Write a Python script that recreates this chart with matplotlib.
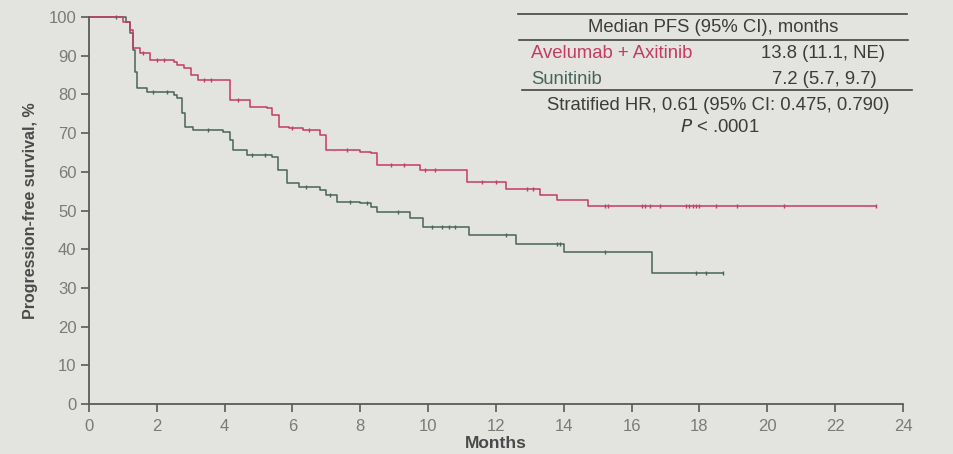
import numpy as np
import matplotlib
matplotlib.use("Agg")
import matplotlib.pyplot as plt
from matplotlib.lines import Line2D

plt.rcParams['font.family'] = ['Liberation Sans', 'DejaVu Sans']

# Kaplan-Meier step data (months, % progression-free)
ave_t = [0, 1.0, 1.2, 1.3, 1.5, 1.8, 2.5, 2.6, 2.8, 3.0, 3.2, 4.15, 4.75, 5.25, 5.4, 5.6,
         5.9, 6.3, 6.8, 7.0, 8.0, 8.3, 8.5, 9.76, 11.15, 12.3, 13.3, 13.8, 14.7, 23.2]
ave_s = [100, 98.7, 96.6, 92, 90.7, 88.9, 88.4, 87.6, 86.8, 85, 83.7, 78.6, 76.7, 76.5, 74.7, 71.6,
         71.3, 70.8, 69.5, 65.6, 65.1, 64.9, 61.8, 60.5, 57.4, 55.6, 54.0, 52.7, 51.2, 51.2]
ave_cens = [1.6, 2.0, 2.2, 3.4, 3.6, 4.4, 6.0, 6.5, 7.6, 8.9, 9.3, 9.9, 10.2, 11.6, 12.0,
            12.9, 13.1, 15.2, 15.3, 16.3, 16.4, 16.55, 16.85, 17.6, 17.7, 17.8, 17.9, 18.0,
            18.5, 19.1, 20.5, 23.2]

sun_t = [0, 1.1, 1.2, 1.3, 1.35, 1.42, 1.7, 2.5, 2.6, 2.75, 2.83, 3.07, 3.95, 4.16, 4.25,
         4.66, 5.4, 5.57, 5.84, 6.2, 6.8, 7.0, 7.3, 8.0, 8.3, 8.5, 9.46, 9.85, 11.2, 12.6,
         14.0, 16.6, 18.7]
sun_s = [100, 98.7, 95.8, 91.5, 85.8, 81.6, 80.6, 79.8, 79.0, 75.2, 71.6, 70.8, 70.3, 68.2, 65.6,
         64.3, 63.8, 60.5, 57.1, 56.0, 55.3, 54.0, 52.2, 51.9, 50.9, 49.6, 48.1, 45.7, 43.7, 41.3,
         39.3, 33.8, 33.8]
sun_cens = [0.8, 1.9, 2.3, 3.5, 4.8, 5.2, 6.4, 7.1, 7.7, 8.2, 9.1, 10.1, 10.4, 10.6, 10.8,
            12.3, 13.8, 13.9, 15.2, 17.9, 18.2, 18.7]

x_ticks = list(range(0, 25, 2))
y_ticks = list(range(0, 101, 10))

red = '#c23c63'
green = '#48645a'
axis_col = '#5a5a5a'
tick_col = '#7a7a7a'
bg = '#e3e3e0'


def surv_at(times, surv, t):
    idx = np.searchsorted(times, t, side='right') - 1
    return np.asarray(surv)[idx]


fig = plt.figure(figsize=(9.54, 4.54), dpi=100, facecolor=bg)
ax = fig.add_axes([89 / 954, 1 - 404 / 454, (903 - 89) / 954, (404 - 17) / 454])
ax.set_facecolor(bg)

for t, s, c, cens in [(sun_t, sun_s, green, sun_cens), (ave_t, ave_s, red, ave_cens)]:
    ax.step(t, s, where='post', color=c, lw=1.1, clip_on=False)
    ax.plot(cens, surv_at(t, s, cens), ls='none', marker='|', ms=3, mew=1.0, color=c,
            clip_on=False)

ax.set_xlim(0, 24)
ax.set_ylim(0, 100)
ax.set_xticks(x_ticks)
ax.set_yticks(y_ticks)
for side in ['top', 'right']:
    ax.spines[side].set_visible(False)
for side in ['left', 'bottom']:
    ax.spines[side].set_color(axis_col)
    ax.spines[side].set_linewidth(1.3)
ax.tick_params(axis='both', colors=axis_col, labelcolor=tick_col, labelsize=12,
               length=6, width=1.2, direction='out')
ax.tick_params(axis='x', pad=5)
ax.tick_params(axis='y', pad=3)

ax.set_xlabel('Months', fontsize=12.5, fontweight='bold', color='#4a4a4a', labelpad=1)
ax.set_ylabel('Progression-free survival, %', fontsize=11.5, fontweight='bold',
              color='#4a4a4a', labelpad=8)


def fx(px):
    return px / 954


def fy(py):
    return 1 - py / 454


# summary table, top right
for y0, x0, x1 in [(14, 518, 907), (40, 519, 908), (90, 522, 912)]:
    fig.add_artist(Line2D([fx(x0), fx(x1)], [fy(y0), fy(y0)], color='#444444', lw=1.2,
                          transform=fig.transFigure))

fs = 13.3
txt = dict(fontsize=fs, color='#3c3c3c', va='center')
fig.text(fx(713), fy(28), 'Median PFS (95% CI), months', ha='center', **txt)
fig.text(fx(531), fy(54), 'Avelumab + Axitinib', ha='left', fontsize=fs, color=red,
         va='center')
fig.text(fx(885), fy(54), '13.8 (11.1, NE)', ha='right', **txt)
fig.text(fx(531), fy(80), 'Sunitinib', ha='left', fontsize=fs, color=green, va='center')
fig.text(fx(877), fy(80), '7.2 (5.7, 9.7)', ha='right', **txt)
fig.text(fx(718), fy(106), 'Stratified HR, 0.61 (95% CI: 0.475, 0.790)', ha='center', **txt)
fig.text(fx(720), fy(127), r'$P$ < .0001', ha='center', **txt)

fig.savefig('out.png', dpi=100, facecolor=bg)
